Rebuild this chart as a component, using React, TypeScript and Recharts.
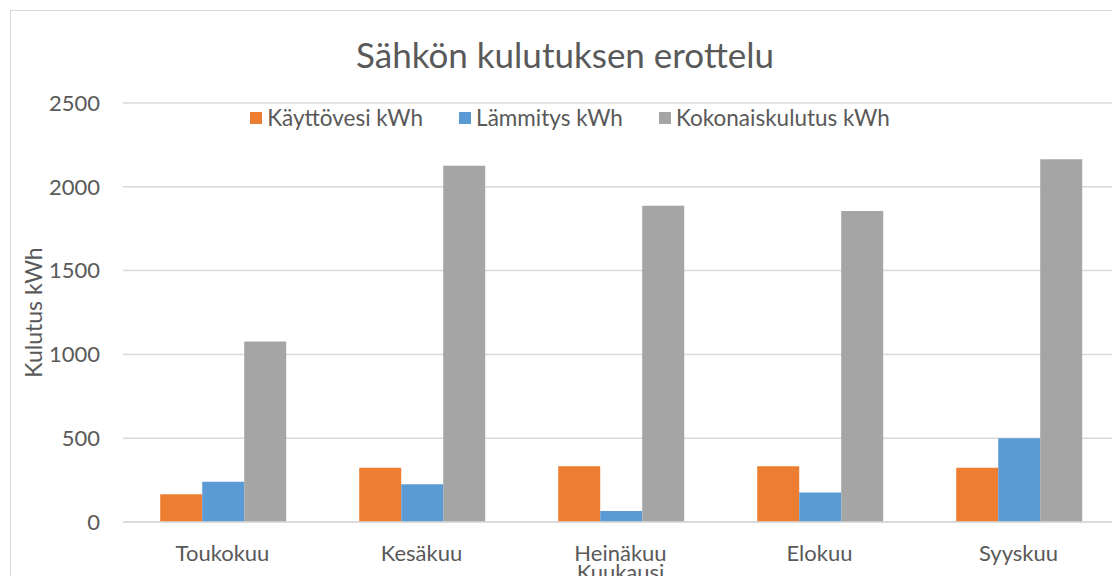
import React from 'react';
import { BarChart, Bar, XAxis, YAxis, CartesianGrid } from 'recharts';

const months = ['Toukokuu', 'Kesäkuu', 'Heinäkuu', 'Elokuu', 'Syyskuu'];
const kayttovesi = [165, 324, 333, 333, 324];
const lammitys = [240, 225, 66, 176, 500];
const kokonais = [1077, 2125, 1887, 1855, 2165];
const yTicks = [0, 500, 1000, 1500, 2000, 2500];

const series = [
    { key: 'kayttovesi', name: 'Käyttövesi kWh', color: '#ED7D31' },
    { key: 'lammitys', name: 'Lämmitys kWh', color: '#5B9BD5' },
    { key: 'kokonais', name: 'Kokonaiskulutus kWh', color: '#A5A5A5' },
];

const data = months.map((m, i) => ({
    month: m,
    kayttovesi: kayttovesi[i],
    lammitys: lammitys[i],
    kokonais: kokonais[i],
}));

const FONT = 'Lato, "Open Sans", sans-serif';
const TEXT = '#595959';

// legend sits inside the plot area, so it's kept out of recharts' layout
function LegendRow() {
    return (
        <div style={{ position: 'absolute', left: 0, top: 106, width: 1140, display: 'flex', justifyContent: 'center', gap: 36, fontFamily: FONT, fontSize: 22.5, color: TEXT, lineHeight: '24px' }}>
            {series.map(s => (
                <div key={s.key} style={{ display: 'flex', alignItems: 'center' }}>
                    <span style={{ width: 12, height: 12, background: s.color, marginRight: 5, display: 'inline-block' }} />
                    {s.name}
                </div>
            ))}
        </div>
    );
}

export default function App() {
    return (
        <div style={{ position: 'relative', margin: -8, width: 1120, height: 584, overflow: 'hidden', background: '#fff' }}>
            <div style={{ position: 'absolute', left: 10, top: 10, width: 1130, height: 600, border: '1px solid #D9D9D9' }} />
            <div style={{ position: 'absolute', left: 0, top: 33, width: 1130, textAlign: 'center', fontFamily: FONT, fontSize: 35, color: TEXT }}>
                Sähkön kulutuksen erottelu
            </div>
            <div style={{ position: 'absolute', left: 0, top: 0 }}>
                <BarChart width={1120} height={584} data={data} margin={{ top: 103, right: 2, bottom: 0, left: 0 }}
                    barCategoryGap="18.7%" barGap={0}>
                    <CartesianGrid vertical={false} stroke="#D9D9D9" strokeWidth={1.5} />
                    <XAxis dataKey="month" height={62} tickLine={false} axisLine={{ stroke: '#D9D9D9', strokeWidth: 1.5 }}
                        tickMargin={17} tick={{ fill: TEXT, fontSize: 22, fontFamily: FONT }}
                        label={{
                            content: ({ viewBox }: any) => (
                                <text x={viewBox.x + viewBox.width / 2} y={viewBox.y + viewBox.height - 4} textAnchor="middle"
                                    fill={TEXT} fontSize={22} fontFamily={FONT}>Kuukausi</text>
                            ),
                        }} />
                    <YAxis width={123} domain={[0, 2500]} ticks={yTicks} tickLine={false} axisLine={false}
                        tickMargin={17} tick={{ fill: TEXT, fontSize: 22, fontFamily: FONT }}
                        label={{
                            content: ({ viewBox }: any) => {
                                const cy = viewBox.y + viewBox.height / 2;
                                return (
                                    <text x={33} y={cy} transform={`rotate(-90 33 ${cy})`} textAnchor="middle" dominantBaseline="central"
                                        fill={TEXT} fontSize={23} fontFamily={FONT}>Kulutus kWh</text>
                                );
                            },
                        }} />
                    {series.map(s => (
                        <Bar key={s.key} dataKey={s.key} name={s.name} fill={s.color} isAnimationActive={false} />
                    ))}
                </BarChart>
            </div>
            <LegendRow />
        </div>
    );
}
